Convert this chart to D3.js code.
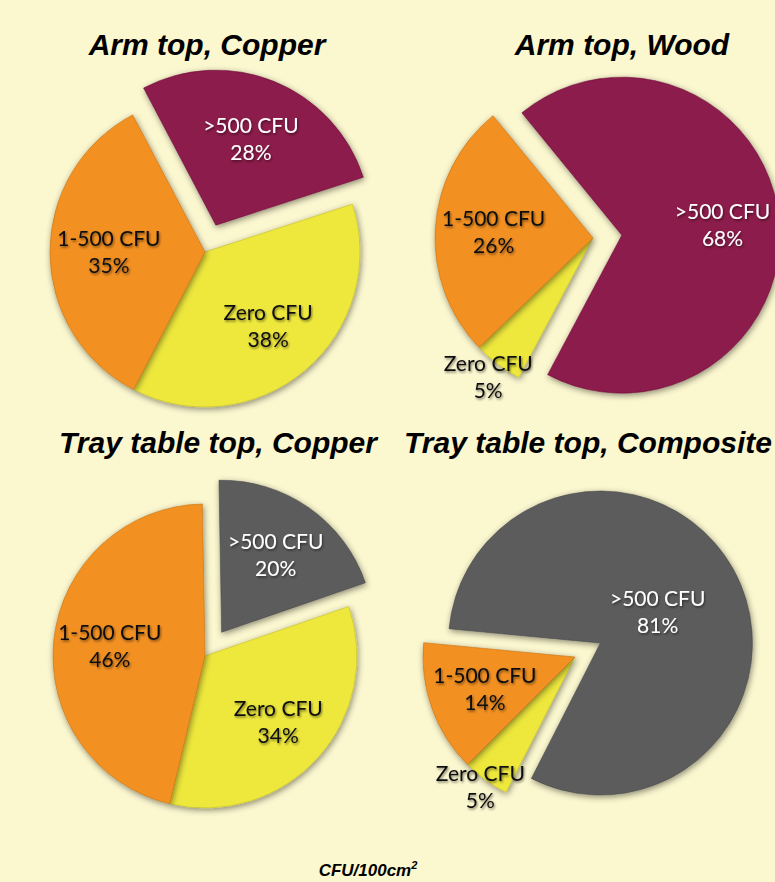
<!DOCTYPE html>
<html>
<head>
<meta charset="utf-8">
<script src="https://cdn.jsdelivr.net/npm/d3@7/dist/d3.min.js"></script>
<style>
  html, body { margin: 0; padding: 0; background: #fbf7cf; overflow: hidden; }
  svg { display: block; }
</style>
</head>
<body>
<svg id="chart" width="775" height="882"></svg>
<script>
// ---------- data ----------
const categories = ["Zero CFU", "1-500 CFU", ">500 CFU"];
const titles = ["Arm top, Copper", "Arm top, Wood", "Tray table top, Copper", "Tray table top, Composite"];
const armTopCopper = [38, 35, 28];
const armTopWood = [5, 26, 68];
const trayTopCopper = [34, 46, 20];
const trayTopComposite = [5, 14, 81];
const seriesValues = [armTopCopper, armTopWood, trayTopCopper, trayTopComposite];
const unitLabel = "CFU/100cm";

// ---------- styles / layout ----------
const colorsArm = ["#eee83c", "#f29020", "#8c1a4c"];
const colorsTray = ["#eee83c", "#f29020", "#5c5c5c"];
const panelColors = [colorsArm, colorsArm, colorsTray, colorsTray];
const deg = Math.PI / 180;
const layout = [
  { cx: 205, cy: 252, r: 155, start: 72,  tx: 207, ty: 55,  lf: [0.63, 0.62, 0.60] },
  { cx: 593, cy: 238, r: 158, start: 208, tx: 622, ty: 55,  lf: [1.10, 0.63, 0.64] },
  { cx: 205, cy: 656, r: 152, start: 71,  tx: 218, ty: 453, lf: [0.65, 0.63, 0.62] },
  { cx: 575, cy: 657, r: 152, start: 207, tx: 588, ty: 453, lf: [1.06, 0.63, 0.43] }
];
const explode = 29;

const svg = d3.select("#chart");
const defs = svg.append("defs");
const fs = defs.append("filter").attr("id", "sliceShadow")
  .attr("x", "-20%").attr("y", "-20%").attr("width", "140%").attr("height", "140%");
fs.append("feDropShadow").attr("dx", 1).attr("dy", 2).attr("stdDeviation", 3)
  .attr("flood-color", "#000").attr("flood-opacity", 0.45);
const ft = defs.append("filter").attr("id", "textShadow")
  .attr("x", "-20%").attr("y", "-40%").attr("width", "140%").attr("height", "180%");
ft.append("feDropShadow").attr("dx", 1).attr("dy", 1.5).attr("stdDeviation", 1.2)
  .attr("flood-color", "#000").attr("flood-opacity", 0.5);

svg.append("rect").attr("width", 775).attr("height", 882).attr("fill", "#fbf7cf");

seriesValues.forEach((vals, i) => {
  const L = layout[i];
  const cols = panelColors[i];
  const pie = d3.pie().sort(null)
    .startAngle(L.start * deg).endAngle(L.start * deg + 2 * Math.PI);
  const arcs = pie(vals);
  const arc = d3.arc().innerRadius(0).outerRadius(L.r);
  const g = svg.append("g").attr("transform", `translate(${L.cx},${L.cy})`);

  const offset = (d, k) => {
    const a = (d.startAngle + d.endAngle) / 2;
    const e = k === 2 ? explode : 0;
    return [Math.sin(a) * e, -Math.cos(a) * e];
  };

  g.selectAll("path.slice").data(arcs).join("path")
    .attr("class", "slice")
    .attr("d", arc)
    .attr("transform", (d, k) => { const o = offset(d, k); return `translate(${o[0]},${o[1]})`; })
    .attr("fill", (d, k) => cols[k])
    .attr("stroke", (d, k) => d3.color(cols[k]).darker(0.6))
    .attr("stroke-width", 0.6)
    .attr("filter", "url(#sliceShadow)");

  const lab = g.selectAll("text.lab").data(arcs).join("text")
    .attr("class", "lab")
    .attr("transform", (d, k) => {
      const a = (d.startAngle + d.endAngle) / 2;
      const o = offset(d, k);
      const rr = L.r * L.lf[k];
      return `translate(${o[0] + Math.sin(a) * rr},${o[1] - Math.cos(a) * rr})`;
    })
    .attr("text-anchor", "middle")
    .attr("font-family", "Lato, 'Open Sans', sans-serif")
    .attr("font-size", 21)
    .attr("fill", (d, k) => k === 2 ? "#ffffff" : "#111111")
    .attr("filter", "url(#textShadow)");
  lab.append("tspan").attr("x", 0).attr("y", -6).text((d, k) => categories[k]);
  lab.append("tspan").attr("x", 0).attr("y", 21).text(d => d.data + "%");

  svg.append("text")
    .attr("x", L.tx).attr("y", L.ty)
    .attr("text-anchor", "middle")
    .attr("font-family", "'Liberation Sans', Arial, sans-serif")
    .attr("font-weight", "bold").attr("font-style", "italic")
    .attr("font-size", 30)
    .attr("fill", "#000")
    .text(titles[i]);
});

const unit = svg.append("text")
  .attr("x", 368).attr("y", 876)
  .attr("text-anchor", "middle")
  .attr("font-family", "'Liberation Sans', Arial, sans-serif")
  .attr("font-weight", "bold").attr("font-style", "italic")
  .attr("font-size", 17).attr("fill", "#000");
unit.append("tspan").text(unitLabel);
unit.append("tspan").attr("dy", -7).attr("font-size", 11).text("2");
</script>
</body>
</html>
